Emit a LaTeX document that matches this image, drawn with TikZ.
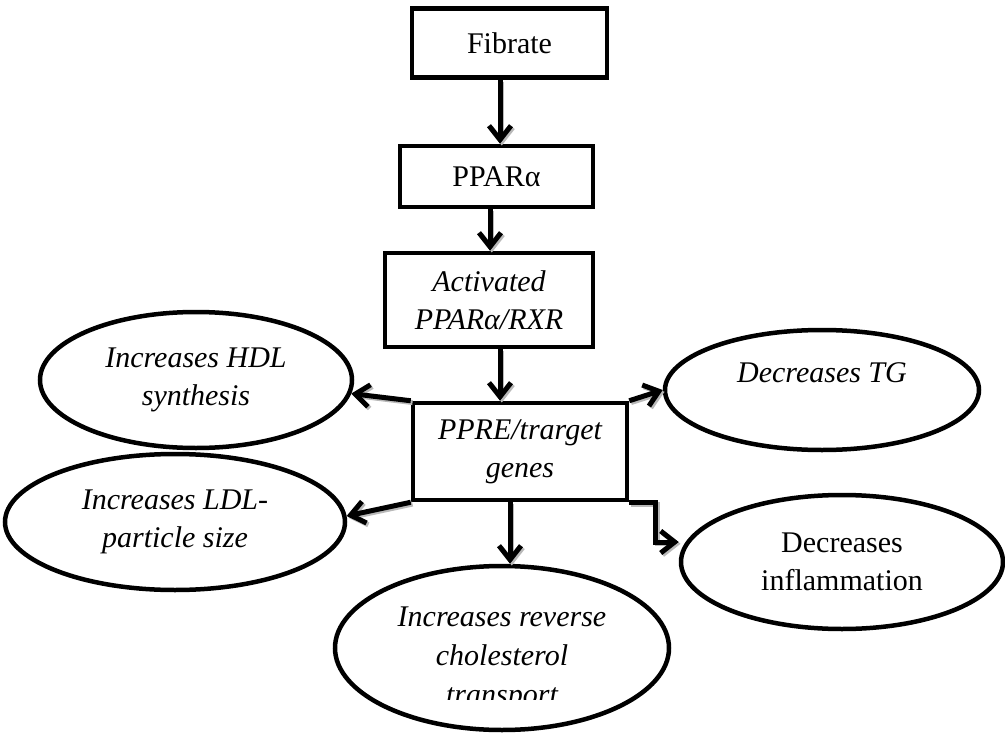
\documentclass[tikz,border=0pt]{standalone}
\usepackage{fontspec}
\setmainfont{Liberation Serif}
\usetikzlibrary{arrows.meta,shapes.geometric,calc}
\begin{document}
\begin{tikzpicture}[x=1pt,y=-1pt,
  txt/.style={font=\fontsize{30}{38}\selectfont, align=center},
  box/.style={txt, draw, line width=4.5pt, rectangle, inner sep=0pt},
  oval/.style={txt, draw, line width=4.5pt, ellipse, inner sep=0pt},
  tip/.style={-{Straight Barb[length=14pt,width=22pt]}},
  conn/.style={line width=5pt, tip,
    preaction={draw=gray!55, line width=5pt, tip, transform canvas={shift={(1.8pt,-1.8pt)}}}}
]
\useasboundingbox (0,0) rectangle (1005,736);

% boxes
\node[box, minimum width=195, minimum height=69] (fib) at (509.5,43) {Fibrate};
\node[box, minimum width=193, minimum height=61] (ppar) at (496.5,176.5) {PPARα};
\node[box, minimum width=208, minimum height=94] (act) at (489,300) {\itshape Activated\\\itshape PPARα/RXR};
\node[box, minimum width=214, minimum height=97] (ppre) at (520,451.5) {\itshape PPRE/trarget\\\itshape genes};

% ellipses
\node[oval, minimum width=312, minimum height=136] (hdl) at (196,380) {\itshape Increases HDL\\\itshape synthesis};
\node[oval, minimum width=340, minimum height=136] (ldl) at (175,522) {\itshape Increases LDL-\\\itshape particle size};
\node[oval, minimum width=314, minimum height=120] (tg) at (822,390) {\itshape Decreases TG\\[-4pt]~};
\node[oval, minimum width=322, minimum height=134] (infl) at (842,562) {Decreases\\inflammation};
\node[oval, minimum width=334, minimum height=164] (rev) at (502,648) {};
\begin{scope}
  \clip (330,570) rectangle (680,699);
  \node[txt, font=\fontsize{30}{39}\selectfont] (revt) at (502,659) {\itshape Increases reverse\\\itshape cholesterol\\\itshape transport};
\end{scope}

% connectors
\draw[conn] ([xshift=-9.5pt]fib.south) -- ([xshift=-9.5pt]fib.south |- ppar.north);
\draw[conn] ([xshift=-6.5pt]ppar.south) -- ([xshift=-6.5pt]ppar.south |- act.north);
\draw[conn] ([xshift=11pt]act.south) -- ([xshift=11pt]act.south |- ppre.north);
\draw[conn] (ppre.north east) -- (tg.west);
\draw[conn] (ppre.north west) -- (hdl.-5);
\draw[conn] (ppre.south west) -- (ldl.2);
\draw[conn] ([xshift=-10pt]ppre.south) -- ([xshift=-10pt]ppre.south |- rev.north);
\draw[conn] (ppre.south east) -- ++(26,0) |- ([yshift=20pt]infl.west);
\end{tikzpicture}
\end{document}
